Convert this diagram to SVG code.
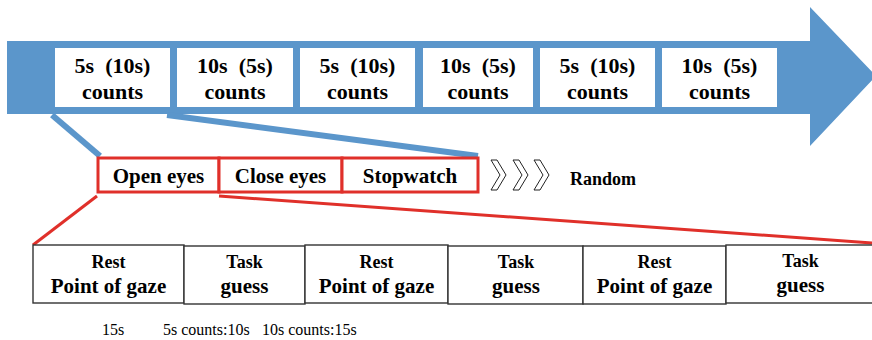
<svg xmlns="http://www.w3.org/2000/svg" width="872" height="340" viewBox="0 0 872 340" font-family="Liberation Serif, Times New Roman, serif">
<style>
  .bt{font-weight:bold;font-size:22px;text-anchor:middle;fill:#000;white-space:pre}
  .rt{font-weight:bold;font-size:21px;text-anchor:middle;fill:#000}
  .s18{font-weight:bold;font-size:18px;text-anchor:middle;fill:#000}
  .s21{font-weight:bold;font-size:21px;text-anchor:middle;fill:#000}
  .note{font-size:16px;fill:#000}
  .wbox{fill:#fff;stroke:none}
  .rbox{fill:#fff;stroke:#e0302a;stroke-width:3}
  .kbox{fill:#fff;stroke:#333;stroke-width:1.4}
  .chev{fill:#fff;stroke:#222;stroke-width:1}
  .blue{stroke:#5b96cb;stroke-width:6;fill:none}
  .red{stroke:#e0302a;stroke-width:3;fill:none}
</style>
<g id="timeline-arrow">
  <polygon points="7,41 810,41 810,7 876,76 810,146 810,114 7,114" fill="#5b96cb"/>
</g>
<g id="block1"><rect class="wbox" x="55" y="48" width="115" height="59"/><text class="bt" x="112.5" y="73" xml:space="preserve">5s  (10s)</text><text class="bt" x="112.5" y="99">counts</text></g>
<g id="block2"><rect class="wbox" x="177" y="48" width="116" height="59"/><text class="bt" x="235" y="73" xml:space="preserve">10s  (5s)</text><text class="bt" x="235" y="99">counts</text></g>
<g id="block3"><rect class="wbox" x="300" y="48" width="115" height="59"/><text class="bt" x="357.5" y="73" xml:space="preserve">5s  (10s)</text><text class="bt" x="357.5" y="99">counts</text></g>
<g id="block4"><rect class="wbox" x="423" y="48" width="110" height="59"/><text class="bt" x="478" y="73" xml:space="preserve">10s  (5s)</text><text class="bt" x="478" y="99">counts</text></g>
<g id="block5"><rect class="wbox" x="540" y="48" width="115" height="59"/><text class="bt" x="597.5" y="73" xml:space="preserve">5s  (10s)</text><text class="bt" x="597.5" y="99">counts</text></g>
<g id="block6"><rect class="wbox" x="662" y="48" width="115" height="59"/><text class="bt" x="719.5" y="73" xml:space="preserve">10s  (5s)</text><text class="bt" x="719.5" y="99">counts</text></g>
<g id="connectors">
  <line class="blue" x1="52" y1="115" x2="100" y2="156"/>
  <line class="blue" x1="167" y1="115" x2="478" y2="156"/>
  <line class="red" x1="97" y1="196" x2="33" y2="245"/>
  <line class="red" x1="219" y1="196" x2="872" y2="243"/>
</g>
<g id="open-eyes"><rect class="rbox" x="98" y="158" width="121" height="34"/><text class="rt" x="158.5" y="183">Open eyes</text></g>
<g id="close-eyes"><rect class="rbox" x="219" y="158" width="123" height="34"/><text class="rt" x="280.5" y="183">Close eyes</text></g>
<g id="stopwatch"><rect class="rbox" x="342" y="158" width="136" height="34"/><text class="rt" x="410" y="183">Stopwatch</text></g>
<g id="random">
  <polygon class="chev" points="491,160 497,160 506,175 497,190 491,190 500,175"/>
  <polygon class="chev" points="513,160 519,160 528,175 519,190 513,190 522,175"/>
  <polygon class="chev" points="534,160 540,160 549,175 540,190 534,190 543,175"/>
  <text class="s18" x="603" y="185">Random</text>
</g>
<g id="rest1"><rect class="kbox" x="33" y="245" width="151" height="58"/><text class="s18" x="108.5" y="268">Rest</text><text class="s21" x="108.5" y="293">Point of gaze</text></g>
<g id="task1"><rect class="kbox" x="184" y="246" width="121" height="58"/><text class="s18" x="244.5" y="268">Task</text><text class="s21" x="244.5" y="293">guess</text></g>
<g id="rest2"><rect class="kbox" x="305" y="245" width="143" height="58"/><text class="s18" x="376.5" y="268">Rest</text><text class="s21" x="376.5" y="293">Point of gaze</text></g>
<g id="task2"><rect class="kbox" x="448" y="246" width="135" height="58"/><text class="s18" x="516" y="268">Task</text><text class="s21" x="516" y="293">guess</text></g>
<g id="rest3"><rect class="kbox" x="583" y="246" width="143" height="58"/><text class="s18" x="654.5" y="268">Rest</text><text class="s21" x="654.5" y="293">Point of gaze</text></g>
<g id="task3"><rect class="kbox" x="726" y="245" width="150" height="58"/><text class="s18" x="800.5" y="267">Task</text><text class="s21" x="800.5" y="292">guess</text></g>
<g id="durations">
  <text class="note" x="102" y="335">15s</text>
  <text class="note" x="163" y="335">5s counts:10s</text>
  <text class="note" x="262" y="335">10s counts:15s</text>
</g>
</svg>
